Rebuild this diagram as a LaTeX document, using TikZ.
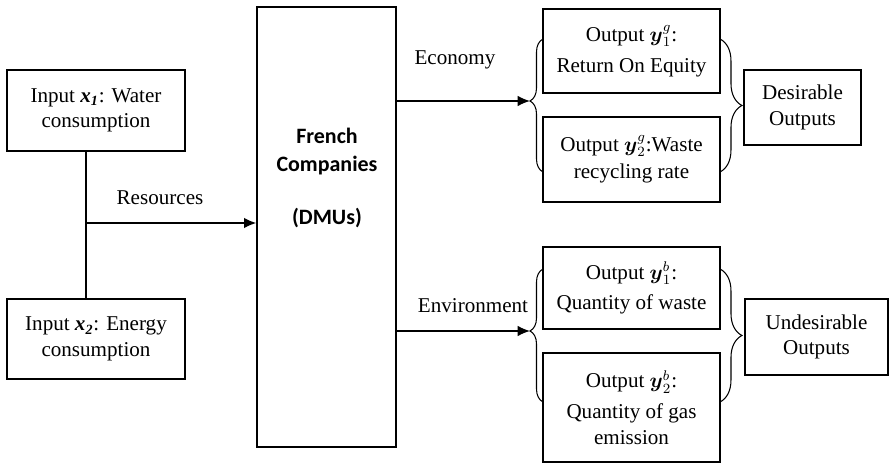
\documentclass[tikz,border=0pt]{standalone}
\usepackage{amsmath}
\usepackage{amssymb}
\usepackage{fontspec}
\setmainfont{Liberation Serif}
\newfontfamily\dmufont{Carlito}
\usetikzlibrary{arrows.meta,decorations.pathreplacing}

\begin{document}
\begin{tikzpicture}[x=0.02cm, y=-0.02cm,
        box/.style={draw, line width=0.8pt, align=center, inner sep=2pt,
            font=\fontsize{12}{14.5}\selectfont},
        lbl/.style={font=\fontsize{12}{14.5}\selectfont},
        brc/.style={line width=0.6pt, decorate, decoration={brace, amplitude=#1}},
        >={Latex[length=7pt,width=6pt]}]
        \useasboundingbox (0,0) rectangle (889,465);

        % inputs
        \node[box, minimum width=3.56cm, minimum height=1.62cm] (in1) at (96,110.5)
            {Input {\bfseries\itshape x\textsubscript{1}}: Water\\consumption};
        \node[box, minimum width=3.56cm, minimum height=1.6cm] (in2) at (96,339)
            {Input {\bfseries\itshape x\textsubscript{2}}: Energy\\consumption};

        % DMUs
        \node[draw, line width=0.8pt, minimum width=2.78cm, minimum height=8.8cm] (dmu) at (326.5,227) {};
        \node[align=center, font=\dmufont\bfseries\fontsize{12.5}{16}\selectfont] (dmutext) at (327,178)
            {French\\Companies\\[14pt](DMUs)};

        % outputs
        \node[box, minimum width=3.54cm, minimum height=1.68cm] (o1g) at (631.5,51)
            {Output $\boldsymbol{y}_1^{g}$:\\[3pt]Return On Equity};
        \node[box, minimum width=3.54cm, minimum height=1.7cm] (o2g) at (631.5,159.5)
            {Output $\boldsymbol{y}_2^{g}$:Waste\\[1pt]recycling rate};
        \node[box, minimum width=3.54cm, minimum height=1.64cm] (o1b) at (631.5,288)
            {Output $\boldsymbol{y}_1^{b}$:\\[3pt]Quantity of waste};
        \node[box, minimum width=3.54cm, minimum height=2.18cm] (o2b) at (631.5,407.5)
            {Output $\boldsymbol{y}_2^{b}$:\\[3pt]Quantity of gas\\emission};

        \node[box, minimum width=2.34cm, minimum height=1.5cm] (des) at (802.5,107.5)
            {Desirable\\Outputs};
        \node[box, minimum width=2.86cm, minimum height=1.52cm] (und) at (816.5,337)
            {Undesirable\\Outputs};

        % labels
        \node[lbl] (reslbl) at (160,198) {Resources};
        \node[lbl] (ecolbl) at (455,60) {Economy};
        \node[lbl] (envlbl) at (473,306) {Environment};

        % connectors
        \coordinate (res) at (86,223);
        \coordinate (ecotip) at (530,101);
        \coordinate (envtip) at (530,331);

        \draw[line width=0.8pt] (in1.south -| res) -- (in2.north -| res);
        \draw[->, line width=0.8pt] (res) -- (res -| dmu.west);
        \draw[->, line width=0.8pt] (ecotip -| dmu.east) -- (ecotip);
        \draw[->, line width=0.8pt] (envtip -| dmu.east) -- (envtip);

        \draw[brc=7.4pt, decoration={aspect=0.534}] (543,172) -- (543,39);
        \draw[brc=12.5pt] (720,39) -- (720,172);
        \draw[brc=7.4pt, decoration={aspect=0.534}] (543,402) -- (543,269);
        \draw[brc=12.5pt] (720,269) -- (720,402);
    \end{tikzpicture}
\end{document}
